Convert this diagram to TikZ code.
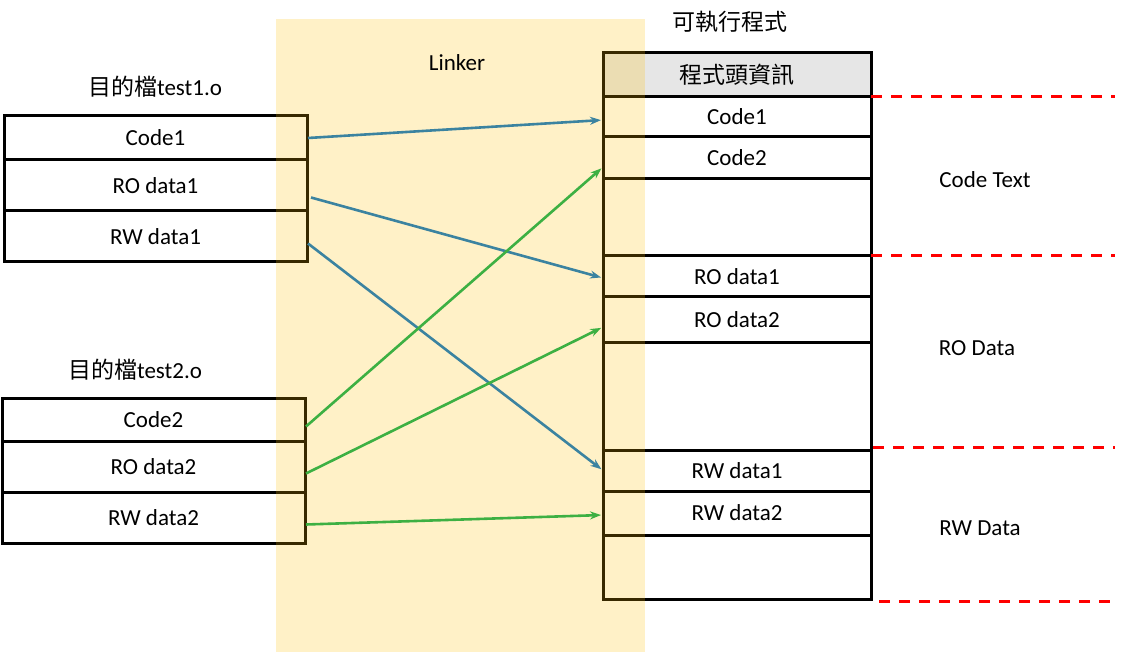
\documentclass[tikz,border=0pt]{standalone}
\usepackage{fontspec}
\setmainfont{Carlito}
\newfontfamily\cjk{Noto Sans CJK TC}
\usetikzlibrary{calc,arrows.meta}
\definecolor{bluearr}{HTML}{3B83A0}
\definecolor{greenarr}{HTML}{3DB043}
\definecolor{bandcol}{HTML}{FFBF00}
\definecolor{hdrgray}{HTML}{E6E6E6}
\begin{document}
\begin{tikzpicture}[x=1pt,y=-1pt,
  every node/.style={font=\fontsize{23}{26}\selectfont, inner sep=0pt},
  rowbox/.style={draw=black, line width=3pt, outer sep=0pt, minimum width=303pt, anchor=north west},
  rrow/.style={draw=black, line width=3pt, outer sep=0pt, minimum width=268pt, anchor=north west},
  lbl/.style={},
  arrblue/.style={draw=bluearr, line width=2.6pt, -{Stealth[length=11pt,width=8pt]}, shorten >=2pt},
  arrgreen/.style={draw=greenarr, line width=2.6pt, -{Stealth[length=11pt,width=8pt]}, shorten >=2pt},
  reddash/.style={draw=red, line width=3pt, dash pattern=on 11pt off 9pt}]
\useasboundingbox (0,0) rectangle (1130,652);
% left box 1
\node[lbl] (t1) at (155,87) {{\cjk 目的檔}test1.o};
\node[rowbox, minimum height=44pt] (c1) at (4,116) {Code1};
\node[rowbox, minimum height=51pt] (ro1) at (4,160) {RO data1};
\node[rowbox, minimum height=51pt] (rw1) at (4,211) {RW data1};
% left box 2
\node[lbl] (t2) at (135,370) {{\cjk 目的檔}test2.o};
\node[rowbox, minimum height=43pt] (c2) at (2,398) {Code2};
\node[rowbox, minimum height=51pt] (ro2) at (2,441) {RO data2};
\node[rowbox, minimum height=51pt] (rw2) at (2,492) {RW data2};
% right box
\node[lbl] (exe) at (730,22) {\cjk 可執行程式};
\node[rrow, fill=hdrgray, minimum height=44pt] (hdr) at (603,53) {\cjk 程式頭資訊};
\node[rrow, minimum height=40pt] (rc1) at (603,97) {Code1};
\node[rrow, minimum height=42pt] (rc2) at (603,137) {Code2};
\node[rrow, minimum height=77pt] (g1) at (603,179) {};
\node[rrow, minimum height=41pt] (rro1) at (603,256) {RO data1};
\node[rrow, minimum height=46pt] (rro2) at (603,297) {RO data2};
\node[rrow, minimum height=107pt] (g2) at (603,343) {};
\node[rrow, minimum height=41pt] (rrw1) at (603,450) {RW data1};
\node[rrow, minimum height=44pt] (rrw2) at (603,491) {RW data2};
\node[rrow, minimum height=64pt] (g3) at (603,535) {};
% linker band
\fill[bandcol, fill opacity=0.22] (276,19) rectangle (645,652);
\node[lbl] (linker) at (457,63) {Linker};
% arrows
\draw[arrblue] ($(c1.east)+(1,0)$) -- ($(rc1.west)+(0,3)$);
\draw[arrblue] ($(ro1.east)+(4,12)$) -- ($(rro1.west)+(0,1.5)$);
\draw[arrblue] ($(rw1.east)+(1,7)$) -- ($(rrw1.west)+(0,0)$);
\draw[arrgreen] ($(c2.east)+(1,7)$) -- ($(rc2.west)+(0,9)$);
\draw[arrgreen] ($(ro2.east)+(1,7)$) -- ($(rro2.west)+(0,7)$);
\draw[arrgreen] ($(rw2.east)+(1,7)$) -- ($(rrw2.west)+(0,2)$);
% section markers
\coordinate (dend) at (1115,0);
\draw[reddash] (hdr.south east) -- (hdr.south east -| dend);
\draw[reddash] (g1.south east) -- (g1.south east -| dend);
\draw[reddash] ($(g2.south east)+(2,-3)$) coordinate (d3s) -- (d3s -| dend);
\draw[reddash] ($(g3.south east)+(8,2)$) coordinate (d4s) -- (d4s -| dend);
\node[lbl] (ct) at (985,180) {Code Text};
\node[lbl] (rod) at (977,348) {RO Data};
\node[lbl] (rwd) at (980,528) {RW Data};
\end{tikzpicture}
\end{document}
